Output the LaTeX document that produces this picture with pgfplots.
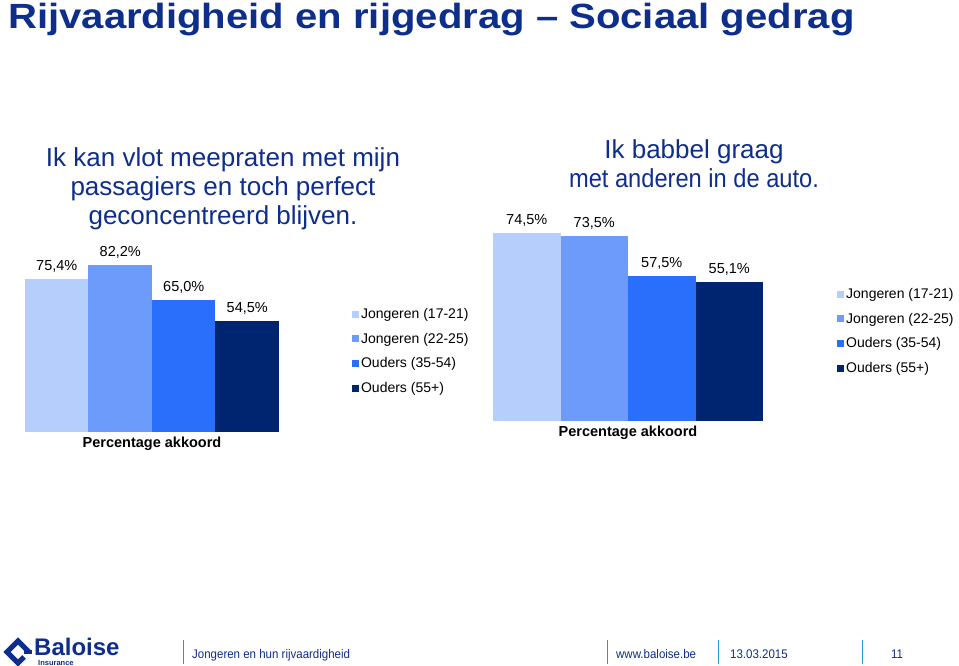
\documentclass[border=0pt]{standalone}
\usepackage{pgfplots}
\pgfplotsset{compat=1.18}
\usepackage{fontspec}
\setmainfont{Liberation Sans}
\definecolor{c1}{RGB}{181,206,251}
\definecolor{c2}{RGB}{108,155,252}
\definecolor{c3}{RGB}{42,110,252}
\definecolor{c4}{RGB}{0,37,112}
\definecolor{navy}{RGB}{14,46,140}
\definecolor{sep}{RGB}{40,150,210}
\newcommand{\fs}[2]{\fontsize{#1bp}{#2bp}\selectfont}
\pgfplotsset{
  sq/.style={legend image code/.code={\fill[##1] (0bp,-3.5bp) rectangle (7bp,3.5bp);}},
  mybar/.style={
    scale only axis, ybar=0pt, ymin=0, ymax=100, xmin=-0.5, xmax=0.5,
    axis line style={draw=none}, ticks=none, clip=false,
    nodes near coords, point meta=explicit symbolic,
    every node near coord/.append style={font=\fs{14.5}{17}, black, yshift=3bp},
    xlabel style={font=\bfseries\fs{14.5}{17}, at={(0.5,0)}, anchor=north, inner sep=2bp, yshift=-3bp},
    legend cell align=left,
    legend style={draw=none, fill=none, font=\fs{14}{17}, row sep=9bp, inner sep=0pt,
      nodes={inner sep=2bp}},
  },
}
\begin{document}
\begin{tikzpicture}
\path[use as bounding box, fill=white] (0bp,0bp) rectangle (959bp,666bp);
% main title
\node[anchor=base west, inner sep=0pt, navy, font=\bfseries\fs{35}{40}, xscale=1.145]
  at (8bp,637bp) {Rijvaardigheid en rijgedrag -- Sociaal gedrag};
% chart titles
\node[anchor=base, inner sep=0pt, navy, font=\fs{26}{29}, align=center]
  at (223bp,441bp) {Ik kan vlot meepraten met mijn\\passagiers en toch perfect\\geconcentreerd blijven.};
\node[anchor=base, inner sep=0pt, navy, font=\fs{26}{29}, align=center]
  at (694bp,478bp) {Ik babbel graag\\\scalebox{0.91}[1]{met anderen in de auto.}};
% left chart
\begin{axis}[mybar, at={(25bp,234bp)}, anchor=south west, width=254bp, height=203bp,
  bar width=63.5bp, xlabel={Percentage akkoord},
  legend style={at={(1.287,0.62)}, anchor=north west}]
\addplot[sq, fill=c1, draw=none] coordinates {(0,75.4) [75,4\%]};
\addplot[sq, fill=c2, draw=none] coordinates {(0,82.2) [82,2\%]};
\addplot[sq, fill=c3, draw=none] coordinates {(0,65.0) [65,0\%]};
\addplot[sq, fill=c4, draw=none] coordinates {(0,54.5) [54,5\%]};
\legend{Jongeren (17-21), Jongeren (22-25), Ouders (35-54), Ouders (55+)}
\end{axis}
% right chart
\begin{axis}[mybar, at={(493bp,245bp)}, anchor=south west, width=270bp, height=252bp,
  bar width=67.5bp, xlabel={Percentage akkoord},
  legend style={at={(1.274,0.535)}, anchor=north west}]
\addplot[sq, fill=c1, draw=none] coordinates {(0,74.5) [74,5\%]};
\addplot[sq, fill=c2, draw=none] coordinates {(0,73.5) [73,5\%]};
\addplot[sq, fill=c3, draw=none] coordinates {(0,57.5) [57,5\%]};
\addplot[sq, fill=c4, draw=none] coordinates {(0,55.1) [55,1\%]};
\legend{Jongeren (17-21), Jongeren (22-25), Ouders (35-54), Ouders (55+)}
\end{axis}
% footer logo
\draw[navy, line width=5bp, line join=miter] (24bp,9bp) -- (18bp,3bp) -- (7bp,14bp) -- (18bp,25bp) -- (29bp,14bp);
\fill[navy] (24bp,12bp) rectangle (32bp,16bp);
\node[anchor=base west, inner sep=0pt, navy, font=\bfseries\fs{24}{28}] at (34bp,11bp) {Baloise};
\node[anchor=base west, inner sep=0pt, navy, font=\bfseries\fs{7.5}{9}] at (38bp,1bp) {Insurance};
% footer separators
\foreach \xx in {183,607,718,862} {\draw[sep, line width=0.8bp] (\xx bp,2bp) -- (\xx bp,26bp);}
\node[anchor=base west, inner sep=0pt, navy, font=\fs{12.5}{14}, xscale=0.92] at (192bp,8bp) {Jongeren en hun rijvaardigheid};
\node[anchor=base west, inner sep=0pt, navy, font=\fs{12.5}{14}, xscale=0.92] at (616bp,8bp) {www.baloise.be};
\node[anchor=base west, inner sep=0pt, navy, font=\fs{12.5}{14}, xscale=0.92] at (730bp,8bp) {13.03.2015};
\node[anchor=base west, inner sep=0pt, navy, font=\fs{12.5}{14}, xscale=0.92] at (891bp,8bp) {11};
\end{tikzpicture}
\end{document}
